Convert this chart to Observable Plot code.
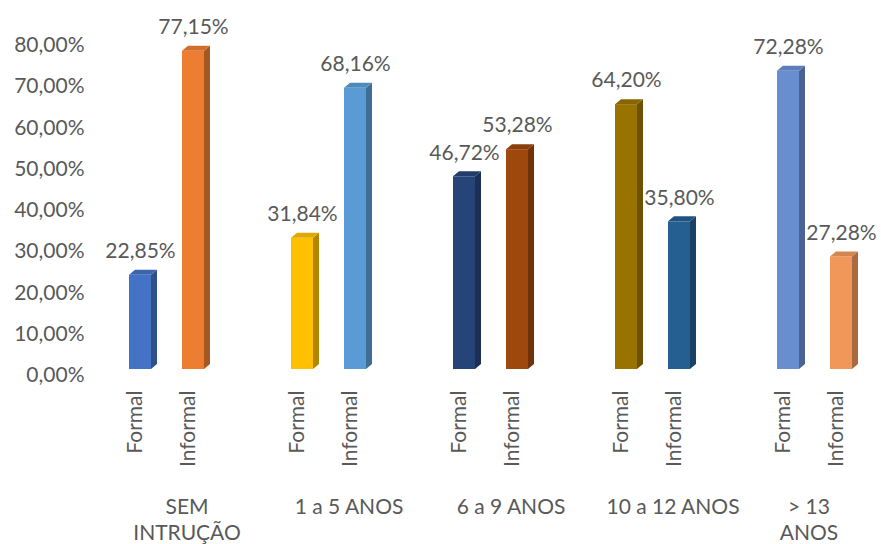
<!DOCTYPE html>
<html>
<head>
<meta charset="utf-8">
<script src="https://cdn.jsdelivr.net/npm/d3@7"></script>
<script src="https://cdn.jsdelivr.net/npm/@observablehq/plot@0.6"></script>
<style>
  html, body { margin: 0; padding: 0; background: #fff; }
</style>
</head>
<body>
<div id="chart"></div>
<script>
// ---- data ----
const groups = ["SEM INTRUÇÃO", "1 a 5 ANOS", "6 a 9 ANOS", "10 a 12 ANOS", "> 13 ANOS"];
const groupLabels = ["SEM\nINTRUÇÃO", "1 a 5 ANOS", "6 a 9 ANOS", "10 a 12 ANOS", "> 13\nANOS"];
const types = ["Formal", "Informal"];
const formal = [22.85, 31.84, 46.72, 64.20, 72.28];
const informal = [77.15, 68.16, 53.28, 35.80, 27.28];
const yTicks = [0, 10, 20, 30, 40, 50, 60, 70, 80];

// ---- styles ----
const formalColors = ["#4472C4", "#FFC000", "#264478", "#997300", "#698ED0"];
const informalColors = ["#ED7D31", "#5B9BD5", "#9E480E", "#255E91", "#F1975A"];

const data = groups.flatMap((g, i) => [
  {group: g, type: "Formal", value: formal[i], color: formalColors[i]},
  {group: g, type: "Informal", value: informal[i], color: informalColors[i]}
]);

const fmt = v => v.toFixed(2).replace(".", ",") + "%";
const TXT = "#595959";
const FS = 21;

function bars3d(index, scales, values, dimensions, context, next) {
  const g = next(index, scales, values, dimensions, context);
  const D = 6, E = 5;
  const ns = "http://www.w3.org/2000/svg";
  for (const r of Array.from(g.querySelectorAll("rect"))) {
    const x = +r.getAttribute("x"), y = +r.getAttribute("y");
    const w = +r.getAttribute("width"), h = +r.getAttribute("height");
    const c = d3.color(r.getAttribute("fill"));
    const side = document.createElementNS(ns, "polygon");
    side.setAttribute("points", `${x + w},${y} ${x + w + D},${y - E} ${x + w + D},${y + h - E} ${x + w},${y + h}`);
    side.setAttribute("fill", c.darker(1).formatHex());
    const top = document.createElementNS(ns, "polygon");
    top.setAttribute("points", `${x},${y} ${x + D},${y - E} ${x + w + D},${y - E} ${x + w},${y}`);
    top.setAttribute("fill", c.darker(0.35).formatHex());
    r.parentNode.appendChild(side);
    r.parentNode.appendChild(top);
  }
  return g;
}

const chart = Plot.plot({
  width: 881,
  height: 544,
  marginLeft: 116,
  marginRight: 16,
  marginTop: 43,
  marginBottom: 171,
  style: {fontFamily: "Lato, 'Open Sans', sans-serif", fontSize: FS + "px", color: TXT, background: "#fff"},
  y: {domain: [0, 80], axis: null, label: null},
  fx: {domain: groups, paddingInner: 0.4, paddingOuter: 0, axis: null, label: null},
  x: {domain: types, paddingInner: 0.5926, paddingOuter: 0.2, axis: null, label: null},
  color: {type: "identity"},
  marks: [
    Plot.axisY({ticks: yTicks, tickSize: 0, tickPadding: 34, tickFormat: fmt, dy: 2, fontSize: FS, label: null}),
    Plot.barY(data, {fx: "group", x: "type", y: "value", fill: "color", dy: -4, render: bars3d}),
    Plot.text(data, {fx: "group", x: "type", y: "value", text: d => fmt(d.value), dy: -28, fontSize: FS, fill: TXT}),
    Plot.axisX({tickSize: 0, rotate: -90, textAnchor: "end", lineAnchor: "middle", tickPadding: 17, dx: -5, fontSize: FS, label: null}),
    Plot.text(d3.range(4), {fx: i => groups[i], text: i => groupLabels[i], frameAnchor: "bottom", lineAnchor: "top", dy: 122, dx: 20, lineHeight: 1.25, fontSize: FS, fill: TXT}),
    Plot.text([4], {fx: i => groups[i], text: i => groupLabels[i], frameAnchor: "bottom", lineAnchor: "top", dy: 122, dx: -6, lineHeight: 1.25, fontSize: FS, fill: TXT})
  ]
});
document.getElementById("chart").appendChild(chart);
</script>
</body>
</html>
